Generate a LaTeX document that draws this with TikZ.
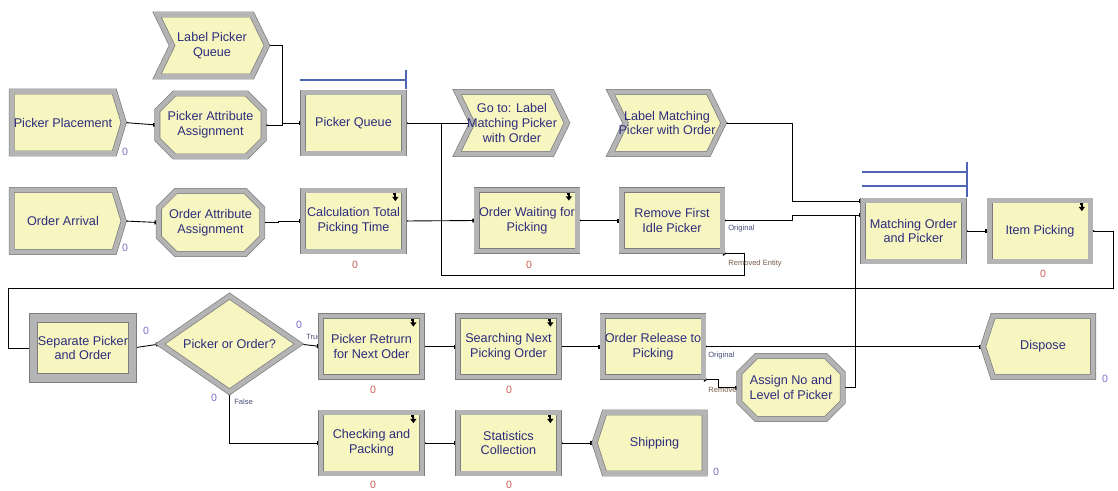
\documentclass[tikz,border=0pt]{standalone}
\usepackage{fontspec}
\setmainfont{Liberation Sans}
\usetikzlibrary{shapes.geometric,shapes.misc,shapes.symbols,arrows.meta,positioning,calc,backgrounds}

\definecolor{modfill}{RGB}{247,245,192}
\definecolor{modtext}{RGB}{45,45,125}
\definecolor{bevel}{RGB}{180,180,180}
\definecolor{beveledge}{RGB}{125,125,125}
\definecolor{qblue}{RGB}{80,100,180}
\definecolor{cntblue}{RGB}{120,110,200}
\definecolor{cntred}{RGB}{200,95,85}
\definecolor{tagblue}{RGB}{70,75,120}
\definecolor{tagbrown}{RGB}{120,90,70}

\tikzset{
  module/.style={draw=beveledge, double=bevel, double distance=2.6pt, line width=0.4pt,
    fill=modfill, text=modtext, font=\fontsize{7.2}{8.5}\selectfont, align=center, inner sep=1pt},
  procbox/.style={module, rectangle, minimum width=2.02cm, minimum height=1.22cm},
  separatebox/.style={procbox, double distance=4.4pt, minimum width=1.98cm, minimum height=1.2cm},
  createbox/.style={module, signal, signal to=east, signal pointer angle=146,
    minimum width=2.24cm, minimum height=1.24cm},
  labelbox/.style={module, signal, signal from=west, signal to=east, signal pointer angle=128,
    inner xsep=-4pt, minimum width=2.2cm, minimum height=1.24cm},
  disposebox/.style={module, signal, signal to=west, signal pointer angle=144,
    minimum width=2.2cm, minimum height=1.22cm},
  assignbox/.style={module, chamfered rectangle, chamfered rectangle xsep=0.17cm,
    chamfered rectangle ysep=0.17cm, minimum width=2.02cm, minimum height=1.26cm},
  decidebox/.style={module, diamond, aspect=1.45, inner sep=0pt, minimum width=2.78cm, minimum height=1.92cm},
  link/.style={line width=0.5pt, {Triangle[reversed,length=2.2pt,width=2.6pt]}-{Square[length=2.2pt,width=2.2pt]}},
  counter/.style={font=\fontsize{6}{6}\selectfont, inner sep=0pt},
  tag/.style={font=\fontsize{4.3}{5}\selectfont, inner sep=0pt, anchor=west},
  queue/.style={qblue, line width=0.6pt},
  icon/.style={line width=1pt, -{Triangle[length=2.5pt,width=3.5pt]}}
}

\begin{document}
\begin{tikzpicture}[x=0.02cm, y=-0.02cm]
  \useasboundingbox (0,0) rectangle (1118,490);

  % picker side
  \node[labelbox] (lpq) at (212,45.5) {Label Picker\\Queue};
  \node[createbox] (pp) at (63,122.5) {Picker Placement};
  \node[assignbox] (paa) at (210.5,125) {Picker Attribute\\Assignment};
  \node[procbox] (pq) at (353.5,123) {Picker Queue};
  \node[labelbox] (gtl) at (512,123) {Go to: Label\\Matching Picker\\with Order};
  \node[labelbox] (lmp) at (667,123) {Label Matching\\Picker with Order};

  % order side
  \node[createbox] (oa) at (63,221) {Order Arrival};
  \node[assignbox] (oaa) at (210.5,222.5) {Order Attribute\\Assignment};
  \node[procbox] (ctp) at (353.5,221) {Calculation Total\\Picking Time};
  \node[procbox] (owp) at (527,220.5) {Order Waiting for\\Picking};
  \node[procbox] (rfi) at (672,220.5) {Remove First\\Idle Picker};
  \node[procbox] (mop) at (913.5,231) {Matching Order\\and Picker};
  \node[procbox] (ip) at (1040,231) {Item Picking};

  % after picking
  \node[separatebox] (spo) at (83,348) {Separate Picker\\and Order};
  \node[decidebox] (poo) at (229.5,344) {Picker or Order?};
  \node[procbox] (prn) at (371.5,346.5) {Picker Retrurn\\for Next Oder};
  \node[procbox] (snp) at (508.5,346.5) {Searching Next\\Picking Order};
  \node[procbox] (orp) at (653,346.5) {Order Release to\\Picking};
  \node[assignbox] (anl) at (791,387.5) {Assign No and\\Level of Picker};
  \node[disposebox] (disp) at (1043,346.5) {Dispose};
  \node[procbox] (cap) at (371.5,443) {Checking and\\Packing};
  \node[procbox] (stc) at (508.5,443) {Statistics\\Collection};
  \node[disposebox] (shp) at (654.5,443) {Shipping};

  \coordinate (j1) at (441,275);
  \coordinate (loopR) at (1113,288);
  \coordinate (loopL) at (8,288);

  \begin{pgfonlayer}{background}
    \draw[link] (pp.east) -- (paa.west);
    \draw[link] (paa.east) -- ++(18,0) |- (pq.west);
    \draw[link] (lpq.east) -- ++(15,0) |- (pq.west);
    \draw[link] (pq.east) -- (gtl.west);
    \draw[link] ($(rfi.east)+(0,33)$) -- ++(22,0) |- (j1) |- (gtl.west);
    \draw[link] (oa.east) -- (oaa.west);
    \draw[link] (oaa.east) -- ++(16,0) |- (ctp.west);
    \draw[link] (ctp.east) -- (owp.west);
    \draw[link] (owp.east) -- (rfi.west);
    \draw[link] (lmp.east) -| ($(mop.west)+(-70,-30)$) -- ($(mop.west)+(0,-30)$);
    \draw[link] (rfi.east) -| ($(mop.west)+(-70,-16)$) -- ($(mop.west)+(0,-16)$);
    \draw[link] (anl.east) -| ($(mop.west)+(-7,-16)$) -- ($(mop.west)+(0,-16)$);
    \draw[link] (mop.east) -- (ip.west);
    \draw[link] (ip.east) -| (loopR) -- (loopL) |- (spo.west);
    \draw[link] (spo.east) -- (poo.west);
    \draw[link] (poo.east) -- (prn.west);
    \draw[link] (poo.south) |- (cap.west);
    \draw[link] (prn.east) -- (snp.west);
    \draw[link] (snp.east) -- (orp.west);
    \draw[link] (orp.east) -- (disp.west);
    \draw[link] ($(orp.east)+(0,33)$) -- ++(15,0) |- (anl.west);
    \draw[link] (cap.east) -- (stc.west);
    \draw[link] (stc.east) -- (shp.west);

    \node[tag, text=tagblue] (t1) at (728,229) {Original};
    \node[tag, text=tagbrown] (t2) at (728,264) {Removed Entity};
    \node[tag, text=tagblue] (t3) at (708,356) {Original};
    \node[tag, text=tagbrown] (t4) at (708,390) {Remove};
    \node[tag, text=tagblue] (t5) at (306,337) {True};
    \node[tag, text=tagblue] (t6) at (234,402) {False};
  \end{pgfonlayer}

  % queues
  \draw[queue] (300,80) -- (406,80) (406,70) -- (406,89);
  \draw[queue] (862,172) -- (967,172) (862,186) -- (967,186) (967,162) -- (967,197);

  % resource icons
  \foreach \n in {ctp,owp,ip,prn,snp,cap,stc}
    \draw[icon] ($(\n.north east)+(-11,4)$) -- ++(2,0) -- ++(0,7);

  % counters
  \node[counter, text=cntblue] (c1) at (125,152) {0};
  \node[counter, text=cntblue] (c2) at (125,248) {0};
  \node[counter, text=cntred] (c3) at (355,265) {0};
  \node[counter, text=cntred] (c4) at (529,265) {0};
  \node[counter, text=cntred] (c5) at (1043,274) {0};
  \node[counter, text=cntblue] (c6) at (146,331) {0};
  \node[counter, text=cntblue] (c7) at (299,325) {0};
  \node[counter, text=cntblue] (c8) at (214,398) {0};
  \node[counter, text=cntred] (c9) at (373,390) {0};
  \node[counter, text=cntred] (c10) at (509,390) {0};
  \node[counter, text=cntblue] (c11) at (1105,379) {0};
  \node[counter, text=cntred] (c12) at (373,485) {0};
  \node[counter, text=cntred] (c13) at (509,485) {0};
  \node[counter, text=cntblue] (c14) at (716,472) {0};
\end{tikzpicture}
\end{document}
